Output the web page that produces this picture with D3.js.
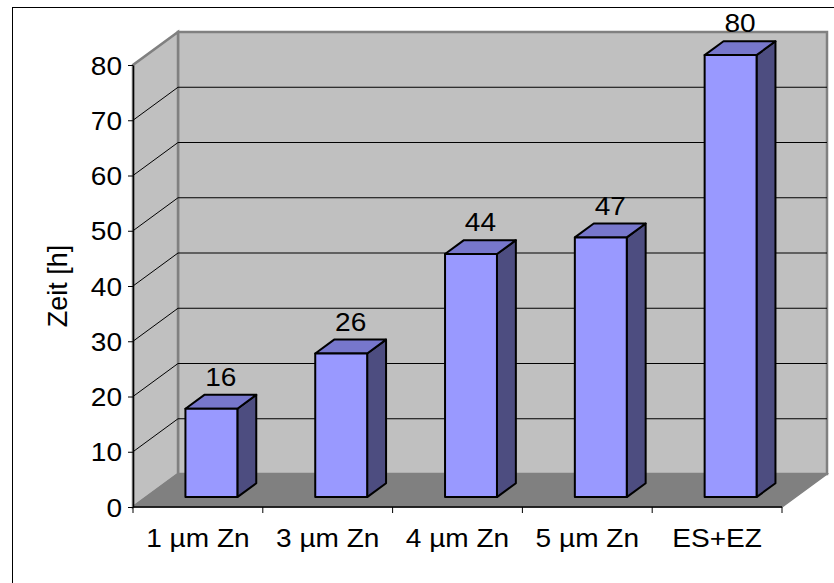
<!DOCTYPE html>
<html>
<head>
<meta charset="utf-8">
<script src="https://cdn.jsdelivr.net/npm/d3@7"></script>
<style>
  html, body { margin: 0; padding: 0; background: #fff; }
  svg { display: block; }
  text { font-family: "Liberation Sans", Arial, sans-serif; fill: #000; }
</style>
</head>
<body>
<svg id="chart" width="834" height="583"></svg>
<script>
// Data
const categories = ["1 µm Zn", "3 µm Zn", "4 µm Zn", "5 µm Zn", "ES+EZ"];
const values = [16, 26, 44, 47, 80];
const yTicks = [0, 10, 20, 30, 40, 50, 60, 70, 80];
const yTitle = "Zeit [h]";

const svg = d3.select("#chart");

// Frame of the 3D plot
const front = { left: 133, right: 782, bottom: 507, top: 65 };
const depth = { dx: 45, dy: -33 };          // offset from front plane to back wall
const barDepth = { t0: 0.30, t1: 0.72 };    // series plane between these depth fractions

const y = d3.scaleLinear().domain([0, 80]).range([front.bottom, front.top]);
const x = d3.scaleBand().domain(categories).range([front.left, front.right]).padding(0);
const barFrac = 0.4;

// label type: slightly wide sans
const fontSize = 25.5, stretch = 1.1;
const wide = (px, py) => `translate(${px},${py}) scale(${stretch},1)`;

// project (px, value, depth fraction) to screen
const P = (px, v, t) => [px + t * depth.dx, y(v) + t * depth.dy];
const poly = pts => "M" + pts.map(p => p.join(",")).join("L") + "Z";

// outer chart border
svg.append("rect")
  .attr("x", 12.5).attr("y", 7.5).attr("width", 840).attr("height", 600)
  .attr("fill", "#fff").attr("stroke", "#000").attr("stroke-width", 1);

const wallStroke = "#808080";
const yMax = 80;

// back wall
svg.append("path")
  .attr("d", poly([P(front.left, 0, 1), P(front.right, 0, 1), P(front.right, yMax, 1), P(front.left, yMax, 1)]))
  .attr("fill", "#c0c0c0").attr("stroke", wallStroke).attr("stroke-width", 2.5);

// left side wall
svg.append("path")
  .attr("d", poly([P(front.left, 0, 0), P(front.left, 0, 1), P(front.left, yMax, 1), P(front.left, yMax, 0)]))
  .attr("fill", "#c0c0c0").attr("stroke", wallStroke).attr("stroke-width", 2.5);

// floor
svg.append("path")
  .attr("d", poly([P(front.left, 0, 0), P(front.right, 0, 0), P(front.right, 0, 1), P(front.left, 0, 1)]))
  .attr("fill", "#808080").attr("stroke", wallStroke).attr("stroke-width", 1.5);

// gridlines on side wall and back wall
const grid = svg.append("g");
yTicks.filter(v => v > 0 && v < yMax).forEach(v => {
  const a = P(front.left, v, 0), b = P(front.left, v, 1), c = P(front.right, v, 1);
  grid.append("path")
    .attr("d", "M" + a.join(",") + "L" + b.join(",") + "L" + c.join(","))
    .attr("fill", "none").attr("stroke", "#000").attr("stroke-width", 1);
});

// y axis
const yAxis = svg.append("g")
  .attr("transform", `translate(${front.left},0)`)
  .call(d3.axisLeft(y).tickValues(yTicks).tickSize(5).tickPadding(6).tickSizeOuter(0));
yAxis.select(".domain").attr("stroke", "#000").attr("stroke-width", 1.5);
yAxis.selectAll(".tick line").attr("stroke", "#000").attr("stroke-width", 1);
yAxis.selectAll(".tick text")
  .attr("x", null).attr("dy", null)
  .attr("transform", wide(-11, 9))
  .style("font-family", '"Liberation Sans", Arial, sans-serif')
  .style("font-size", fontSize + "px").attr("fill", "#000");

// x axis line and ticks at category boundaries
const xAxis = svg.append("g");
xAxis.append("line")
  .attr("x1", front.left).attr("x2", front.right)
  .attr("y1", front.bottom).attr("y2", front.bottom)
  .attr("stroke", "#000").attr("stroke-width", 1.5);
const bounds = categories.map(c => x(c)).concat([x(categories[categories.length - 1]) + x.bandwidth()]);
bounds.forEach(bx => {
  xAxis.append("line")
    .attr("x1", bx).attr("x2", bx)
    .attr("y1", front.bottom).attr("y2", front.bottom + 6)
    .attr("stroke", "#000").attr("stroke-width", 1);
});
xAxis.selectAll("text.cat").data(categories).join("text")
  .attr("class", "cat")
  .attr("transform", d => wide(x(d) + x.bandwidth() / 2, 547))
  .attr("text-anchor", "middle")
  .style("font-size", fontSize + "px")
  .text(d => d);

// y axis title
svg.append("text")
  .attr("transform", "translate(67,286) rotate(-90)")
  .attr("text-anchor", "middle")
  .style("font-size", "27px")
  .text(yTitle);

// bars
const colFront = "#9999ff", colTop = "#7777cc", colSide = "#4d4d80";
const bars = svg.append("g");
categories.forEach((c, i) => {
  const v = values[i];
  const bw = x.bandwidth() * barFrac;
  const x0 = x(c) + (x.bandwidth() - bw) / 2, x1 = x0 + bw;
  const g = bars.append("g");
  // right side face
  g.append("path")
    .attr("d", poly([P(x1, 0, barDepth.t0), P(x1, 0, barDepth.t1), P(x1, v, barDepth.t1), P(x1, v, barDepth.t0)]))
    .attr("fill", colSide).attr("stroke", "#000").attr("stroke-width", 2).attr("stroke-linejoin", "round");
  // top face
  g.append("path")
    .attr("d", poly([P(x0, v, barDepth.t0), P(x1, v, barDepth.t0), P(x1, v, barDepth.t1), P(x0, v, barDepth.t1)]))
    .attr("fill", colTop).attr("stroke", "#000").attr("stroke-width", 2).attr("stroke-linejoin", "round");
  // front face
  g.append("path")
    .attr("d", poly([P(x0, 0, barDepth.t0), P(x1, 0, barDepth.t0), P(x1, v, barDepth.t0), P(x0, v, barDepth.t0)]))
    .attr("fill", colFront).attr("stroke", "#000").attr("stroke-width", 2).attr("stroke-linejoin", "round");
  // value label above the bar
  const tm = (barDepth.t0 + barDepth.t1) / 2;
  const top = P((x0 + x1) / 2, v, barDepth.t1);
  g.append("text")
    .attr("transform", wide(P((x0 + x1) / 2, v, tm)[0], top[1] - 9))
    .attr("text-anchor", "middle")
    .style("font-size", fontSize + "px")
    .text(v);
});
</script>
</body>
</html>
